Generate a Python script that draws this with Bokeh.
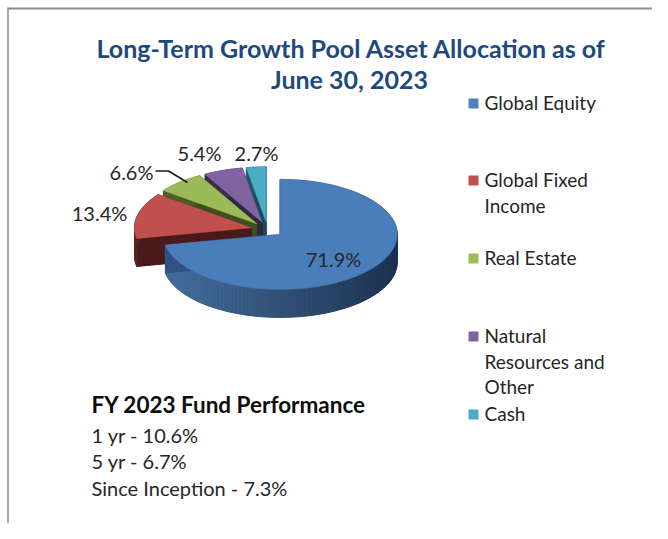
import numpy as np
from bokeh.plotting import figure
from bokeh.models import Range1d
from bokeh.embed import file_html
from bokeh.resources import INLINE
from bokeh.core.properties import value

# ---------------- data ----------------
title_lines = ["Long-Term Growth Pool Asset Allocation as of", "June 30, 2023"]
categories = ["Global Equity", "Global Fixed Income", "Real Estate",
              "Natural Resources and Other", "Cash"]
legend_lines = [["Global Equity"], ["Global Fixed", "Income"], ["Real Estate"],
                ["Natural", "Resources and", "Other"], ["Cash"]]
shares = [71.9, 13.4, 6.6, 5.4, 2.7]
share_labels = ["71.9%", "13.4%", "6.6%", "5.4%", "2.7%"]
perf_title = "FY 2023 Fund Performance"
perf_lines = ["1 yr - 10.6%", "5 yr - 6.7%", "Since Inception - 7.3%"]

# ---------------- styles ----------------
top_colors = ["#4A7EBB", "#C0504D", "#9BBB59", "#8064A2", "#4BACC6"]
side_light = ["#45709F", "#5E2322", "#4F6228", "#3F3151", "#23606F"]
side_dark = ["#1E3250", "#4A1A19", "#3E4E1F", "#322740", "#1B4A55"]
legend_colors = ["#4F81BD", "#C0504D", "#9BBB59", "#8064A2", "#4BACC6"]
FONT = "Lato"

W, H = 652, 523
p = figure(width=W, height=H, x_range=Range1d(0, W), y_range=Range1d(H, 0),
           output_backend="svg", toolbar_location=None, min_border=0)
p.axis.visible = False
p.grid.visible = False
p.outline_line_color = None
p.background_fill_color = "white"
p.border_fill_color = "white"

# frame lines (top and left, as in the reference)
p.line([7, W], [8, 8], line_color="#8C8C8C", line_width=2)
p.line([7.5, 7.5], [7, H], line_color="#8C8C8C", line_width=1.5)

# ---------------- 3D exploded pie ----------------
cx0, cy0 = 267.0, 229.0
rx, ry = 117.0, 55.0
depth = 28.0
explode = 0.14


def blend(c1, c2, t):
    a = [int(c1[i:i + 2], 16) for i in (1, 3, 5)]
    b = [int(c2[i:i + 2], 16) for i in (1, 3, 5)]
    return "#%02x%02x%02x" % tuple(int(round(a[k] + (b[k] - a[k]) * t)) for k in range(3))


vals = np.array(shares, dtype=float)
ends = np.cumsum(vals) / vals.sum() * 2 * np.pi
starts = np.concatenate([[0.0], ends[:-1]])

xs, ys, cols = [], [], []
centers = []
for i in range(len(vals)):
    mid = 0.5 * (starts[i] + ends[i])
    cx = cx0 + explode * rx * np.sin(mid)
    cy = cy0 - explode * ry * np.cos(mid)
    centers.append((cx, cy, mid))

order = list(range(len(vals)))[::-1]  # back (small slices) to front (equity)
for i in order:
    th0, th1 = starts[i], ends[i]
    cx, cy, mid = centers[i]
    n = max(int(np.degrees(th1 - th0) / 2), 4)
    th = np.linspace(th0, th1, n)
    ax = cx + rx * np.sin(th)
    ay = cy - ry * np.cos(th)
    px = np.concatenate([[cx], ax])
    py = np.concatenate([[cy], ay])
    # bottom face
    xs.append(list(px)); ys.append(list(py + depth)); cols.append(side_dark[i])
    # side faces
    m = len(px)
    for k in range(m):
        a, b = k, (k + 1) % m
        qx = [px[a], px[b], px[b], px[a]]
        qy = [py[a], py[b], py[b] + depth, py[a] + depth]
        if a >= 1 and b >= 1:
            tmid = 0.5 * (th[a - 1] + th[b - 1])
            t = (np.sin(tmid) + 1) / 2
            c = blend(side_light[i], side_dark[i], t)
        else:
            c = side_dark[i] if i != 0 else "#2E5282"
        xs.append(qx); ys.append(qy); cols.append(c)
    xs.append(list(px)); ys.append(list(py)); cols.append(top_colors[i])

p.patches(xs, ys, fill_color=cols, line_color=cols, line_width=0.6)

# ---------------- data labels ----------------
lab_x = [333, 99, 131, 199, 256]
lab_y = [258, 212, 171, 152, 152]
p.text(lab_x, lab_y, text=share_labels, text_font=value(FONT), text_font_size="20px",
       text_color="#262626", text_align="center", text_baseline="middle")
# leader line for Real Estate
p.line([155, 168, 187], [170.5, 170.5, 182], line_color="#1a1a1a", line_width=1.5)

# ---------------- title ----------------
p.text([351, 349], [47, 78], text=title_lines, text_font=value(FONT),
       text_font_size="25px", text_font_style="bold", text_color="#1F497D",
       text_align="center", text_baseline="middle")

# ---------------- legend ----------------
leg_y = [103, 180, 258, 336, 414]
p.scatter([473] * 5, leg_y, marker="square", size=10, fill_color=legend_colors,
          line_color=None)
lx, ly, lt = [], [], []
for j, lines in enumerate(legend_lines):
    for k, s in enumerate(lines):
        lx.append(484); ly.append(leg_y[j] - 1 + 25.5 * k); lt.append(s)
p.text(lx, ly, text=lt, text_font=value(FONT), text_font_size="19px",
       text_color="#262626", text_align="left", text_baseline="middle")

# ---------------- performance box ----------------
p.text([91], [404], text=[perf_title], text_font=value(FONT), text_font_size="22.5px",
       text_font_style="bold", text_color="#0D0D0D", text_align="left",
       text_baseline="middle")
p.text([91, 91, 91], [434, 460, 487], text=perf_lines, text_font=value(FONT),
       text_font_size="20px", text_color="#262626", text_align="left",
       text_baseline="middle")

open("out.html", "w").write(file_html(p, INLINE))
